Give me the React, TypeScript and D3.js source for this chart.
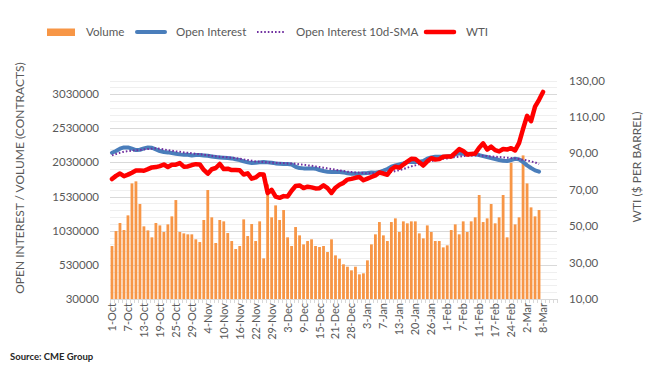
import React from "react";
import * as d3 from "d3";

// ---------- DATA ----------
const dates: string[] = [
  "1-Oct","4-Oct","5-Oct","6-Oct","7-Oct","8-Oct","11-Oct","12-Oct","13-Oct","14-Oct","15-Oct","18-Oct","19-Oct","20-Oct","21-Oct","22-Oct","25-Oct","26-Oct","27-Oct","28-Oct","29-Oct",
  "1-Nov","2-Nov","3-Nov","4-Nov","5-Nov","8-Nov","9-Nov","10-Nov","11-Nov","12-Nov","15-Nov","16-Nov","17-Nov","18-Nov","19-Nov","22-Nov","23-Nov","24-Nov","26-Nov","29-Nov","30-Nov",
  "1-Dec","2-Dec","3-Dec","6-Dec","7-Dec","8-Dec","9-Dec","10-Dec","13-Dec","14-Dec","15-Dec","16-Dec","17-Dec","20-Dec","21-Dec","22-Dec","23-Dec","27-Dec","28-Dec","29-Dec","30-Dec","31-Dec",
  "3-Jan","4-Jan","5-Jan","6-Jan","7-Jan","10-Jan","11-Jan","12-Jan","13-Jan","14-Jan","18-Jan","19-Jan","20-Jan","21-Jan","24-Jan","25-Jan","26-Jan","27-Jan","28-Jan","31-Jan",
  "1-Feb","2-Feb","3-Feb","4-Feb","7-Feb","8-Feb","9-Feb","10-Feb","11-Feb","14-Feb","15-Feb","16-Feb","17-Feb","18-Feb","22-Feb","23-Feb","24-Feb","25-Feb","28-Feb",
  "1-Mar","2-Mar","3-Mar","4-Mar","7-Mar","8-Mar"
];
const slotCount = 112;

// Volume (contracts)
const volume: number[] = [
  806000,1025000,1143000,1040000,1255000,1723000,1753000,1421000,1094000,1035000,
  933000,1143000,1108000,1011000,1123000,1240000,1479000,1011000,991000,977000,
  977000,904000,864000,1187000,1626000,1226000,850000,1187000,1167000,996000,
  879000,762000,806000,1196000,952000,1128000,879000,1167000,625000,1709000,
  1226000,1401000,1187000,1333000,933000,806000,1084000,962000,830000,879000,
  904000,806000,791000,806000,718000,904000,669000,620000,538000,503000,
  450000,503000,391000,406000,596000,830000,977000,1157000,962000,879000,
  1157000,1211000,1011000,1167000,1138000,1167000,1167000,991000,918000,1108000,
  1011000,879000,879000,786000,816000,1040000,1123000,977000,1167000,1011000,
  1167000,1226000,1553000,1157000,1211000,1421000,1138000,1226000,1553000,933000,
  2026000,1123000,1226000,2133000,1723000,1372000,1240000,1333000
];

// Open interest (contracts)
const openInterest: number[] = [
  2172000,2197000,2231000,2250000,2250000,2231000,2211000,2216000,2236000,2250000,
  2245000,2221000,2197000,2182000,2177000,2167000,2158000,2148000,2143000,2143000,
  2133000,2138000,2138000,2133000,2128000,2118000,2109000,2104000,2099000,2094000,
  2089000,2075000,2065000,2045000,2031000,2021000,2026000,2031000,2036000,2031000,
  2026000,2016000,2011000,2006000,2006000,2001000,1967000,1948000,1943000,1943000,
  1943000,1938000,1919000,1904000,1894000,1889000,1889000,1889000,1884000,1870000,
  1865000,1865000,1865000,1870000,1875000,1882000,1880000,1889000,1909000,1933000,
  1967000,1987000,2001000,2016000,2036000,2036000,2036000,2041000,2050000,2084000,
  2104000,2114000,2114000,2114000,2118000,2123000,2148000,2162000,2158000,2158000,
  2153000,2148000,2138000,2123000,2109000,2094000,2080000,2065000,2055000,2050000,
  2065000,2084000,2075000,2036000,1987000,1948000,1914000,1894000
];

// Open interest 10d-SMA (contracts)
const openInterestSma: number[] = [
  2133000,2153000,2172000,2187000,2197000,2202000,2207000,2211000,2221000,2226000,
  2231000,2236000,2231000,2221000,2211000,2202000,2192000,2187000,2177000,2172000,
  2165000,2158000,2150000,2143000,2136000,2128000,2121000,2114000,2109000,2104000,
  2099000,2094000,2084000,2075000,2065000,2055000,2045000,2041000,2036000,2031000,
  2026000,2026000,2021000,2021000,2016000,2016000,2011000,2001000,1997000,1987000,
  1982000,1972000,1962000,1953000,1943000,1933000,1923000,1914000,1904000,1894000,
  1889000,1884000,1880000,1875000,1870000,1870000,1870000,1870000,1875000,1880000,
  1889000,1904000,1919000,1933000,1953000,1972000,1987000,2006000,2021000,2036000,
  2050000,2065000,2075000,2084000,2089000,2099000,2109000,2114000,2123000,2128000,
  2128000,2133000,2133000,2128000,2123000,2118000,2114000,2109000,2104000,2099000,
  2094000,2089000,2080000,2070000,2060000,2045000,2031000,2005000
];

// WTI ($ per barrel)
const wti: number[] = [
  75.88,77.62,78.93,77.43,78.30,79.35,80.52,80.64,80.44,81.31,
  82.28,82.44,82.96,83.87,82.50,83.76,83.76,84.65,82.66,82.81,
  83.57,84.05,83.91,80.86,78.81,81.27,81.93,84.15,81.34,81.59,
  80.79,80.88,80.76,78.36,79.01,76.10,76.75,78.50,78.39,68.15,
  69.95,66.18,65.57,66.50,66.26,69.49,72.05,72.36,70.94,71.67,
  71.29,70.73,70.87,72.38,70.86,68.23,71.12,72.76,73.79,75.57,
  75.98,76.56,76.99,75.21,76.08,76.99,77.85,79.46,78.90,78.23,
  81.22,82.64,82.12,83.82,85.43,86.96,86.90,85.14,83.31,85.60,
  87.35,86.61,86.82,88.15,88.20,88.26,90.27,92.31,91.32,89.36,
  89.66,89.88,93.10,95.46,92.07,93.66,91.76,91.07,92.35,92.10,
  92.81,91.59,95.72,103.41,110.60,107.67,115.68,119.40,123.70
];

const leftTicks: number[] = [30000, 530000, 1030000, 1530000, 2030000, 2530000, 3030000];
const rightTicks: number[] = [10, 30, 50, 70, 90, 110, 130];
const seriesNames: string[] = ["Volume", "Open Interest", "Open Interest 10d-SMA", "WTI"];

// ---------- LAYOUT ----------
const W = 662;
const H = 377;
const plot = { left: 110, right: 557, top: 80.5, bottom: 299 };
const FONT = "Lato, 'Open Sans', sans-serif";
const TEXT = "#595959";
const C_VOL = "#F79646";
const C_OI = "#4A7EBB";
const C_SMA = "#7030A0";
const C_WTI = "#FF0000";

export default function App() {
  const x = d3
    .scaleBand<number>()
    .domain(d3.range(slotCount))
    .range([plot.left, plot.right])
    .paddingInner(0.3)
    .paddingOuter(0.15);
  const cx = (i: number) => (x(i) as number) + x.bandwidth() / 2;
  const step = x.step();

  const yL = d3.scaleLinear().domain([30000, 3230000]).range([plot.bottom, plot.top]);
  const yR = d3.scaleLinear().domain([10, 130]).range([plot.bottom, plot.top]);

  const gridVals = d3.range(30000, 3230001, 100000);

  const lineL = d3
    .line<number>()
    .x((_, i) => cx(i))
    .y((d) => yL(d));
  const lineR = d3
    .line<number>()
    .x((_, i) => cx(i))
    .y((d) => yR(d));

  const fmtR = (v: number) => v.toFixed(2).replace(".", ",");

  const legendY = 32;
  const LFS = 11.6;

  return (
    <svg width={W} height={H} style={{ display: "block", position: "absolute", left: 0, top: 0 }} fontFamily={FONT}>
      <rect x={0} y={0} width={W} height={H} fill="#ffffff" />

      {/* gridlines */}
      {gridVals.map((v, k) => {
        const major = (v - 30000) % 500000 === 0;
        return (
          <line
            key={"g" + k}
            x1={plot.left}
            x2={plot.right}
            y1={Math.round(yL(v)) + 0.5}
            y2={Math.round(yL(v)) + 0.5}
            stroke={major ? "#d9d9d9" : "#efefef"}
            strokeWidth={1}
          />
        );
      })}

      {/* bars */}
      {volume.map((v, i) => (
        <rect
          key={"b" + i}
          x={x(i) as number}
          y={yL(v)}
          width={x.bandwidth()}
          height={yL(30000) - yL(v)}
          fill={C_VOL}
        />
      ))}

      {/* x axis */}
      <line x1={plot.left} x2={plot.right} y1={plot.bottom + 0.5} y2={plot.bottom + 0.5} stroke="#d9d9d9" />
      {d3.range(slotCount + 1).map((i) => (
        <line
          key={"t" + i}
          x1={Math.round(plot.left + i * step) + 0.5}
          x2={Math.round(plot.left + i * step) + 0.5}
          y1={plot.bottom}
          y2={plot.bottom + 4}
          stroke="#d9d9d9"
        />
      ))}

      {/* lines */}
      <path d={lineL(openInterest) || ""} fill="none" stroke={C_OI} strokeWidth={4} strokeLinejoin="round" strokeLinecap="round" />
      <path d={lineL(openInterestSma) || ""} fill="none" stroke={C_SMA} strokeWidth={2} strokeDasharray="1.6 2" />
      <path d={lineR(wti) || ""} fill="none" stroke={C_WTI} strokeWidth={4.5} strokeLinejoin="round" strokeLinecap="round" />

      {/* x labels */}
      {dates.map((d, i) =>
        i % 4 === 0 ? (
          <text
            key={"xl" + i}
            transform={`translate(${cx(i) + 4},${plot.bottom + 4}) rotate(-90)`}
            textAnchor="end"
            fontSize={11}
            fill={TEXT}
          >
            {d}
          </text>
        ) : null
      )}

      {/* left ticks */}
      {leftTicks.map((v) => (
        <text key={"l" + v} x={99} y={yL(v) + 4} textAnchor="end" fontSize={11.5} fill={TEXT}>
          {String(v)}
        </text>
      ))}
      {/* right ticks */}
      {rightTicks.map((v) => (
        <text key={"r" + v} x={569} y={yR(v) + 4} textAnchor="start" fontSize={11.5} fill={TEXT}>
          {fmtR(v)}
        </text>
      ))}

      {/* axis titles */}
      <text transform="translate(24,178) rotate(-90)" textAnchor="middle" fontSize={12} fill={TEXT}>
        OPEN INTEREST / VOLUME (CONTRACTS)
      </text>
      <text transform="translate(641,167) rotate(-90)" textAnchor="middle" fontSize={12} fill={TEXT}>
        WTI ($ PER BARREL)
      </text>

      {/* legend */}
      <rect x={47} y={28.5} width={28} height={7.5} fill={C_VOL} />
      <text x={86} y={legendY + 4.2} fontSize={LFS} fill={TEXT}>{seriesNames[0]}</text>
      <line x1={137} x2={165} y1={legendY} y2={legendY} stroke={C_OI} strokeWidth={4} strokeLinecap="round" />
      <text x={176} y={legendY + 4.2} fontSize={LFS} fill={TEXT}>{seriesNames[1]}</text>
      <line x1={257} x2={285} y1={legendY} y2={legendY} stroke={C_SMA} strokeWidth={2} strokeDasharray="1.6 2" />
      <text x={296} y={legendY + 4.2} fontSize={LFS} fill={TEXT}>{seriesNames[2]}</text>
      <line x1={426} x2={454} y1={legendY} y2={legendY} stroke={C_WTI} strokeWidth={4.5} strokeLinecap="round" />
      <text x={466} y={legendY + 4.2} fontSize={LFS} fill={TEXT}>{seriesNames[3]}</text>

      {/* source */}
      <text x={10} y={360} fontSize={9.5} fontWeight="bold" fill="#262626">
        Source: CME Group
      </text>
    </svg>
  );
}
